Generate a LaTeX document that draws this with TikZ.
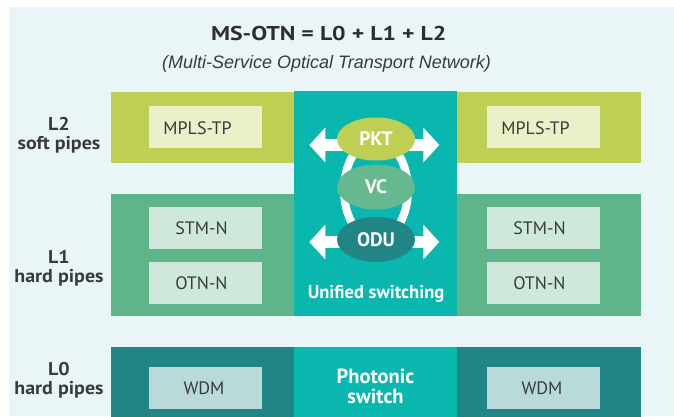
\documentclass[tikz,border=0pt]{standalone}
\usepackage{fontspec}
\usepackage{graphicx}
\setmainfont{PT Sans}
\newfontfamily\subfont{Liberation Sans}
\usetikzlibrary{shapes.geometric,arrows.meta}
\definecolor{bgc}{HTML}{EAF5F8}
\definecolor{ltwo}{HTML}{BECF53}
\definecolor{ltwobox}{HTML}{EAF0C8}
\definecolor{lone}{HTML}{5EB58A}
\definecolor{lonebox}{HTML}{CFE8DC}
\definecolor{lzero}{HTML}{218585}
\definecolor{lzerobox}{HTML}{B8DBDA}
\definecolor{tealc}{HTML}{09B7AF}
\definecolor{vcc}{HTML}{66B98E}
\definecolor{txt}{HTML}{3A3A3A}
\newcommand{\wider}[1]{\scalebox{1.08}[1]{#1}}
\begin{document}
\begin{tikzpicture}[x=1pt,y=-1pt,
  band/.style={rectangle, inner sep=0pt, outer sep=0pt, draw=none},
  inbox/.style={rectangle, inner sep=0pt, outer sep=0pt, minimum width=113pt, minimum height=42pt},
  boxtxt/.style={inner sep=0pt, text=txt, font=\fontsize{18}{21}\selectfont},
  lbl/.style={anchor=base, inner sep=0pt, text=txt, font=\fontsize{18.5}{21}\selectfont\bfseries},
  oval/.style={ellipse, inner sep=0pt, minimum width=78pt, minimum height=43pt, text=white,
     font=\fontsize{19.5}{22}\selectfont\bfseries},
  wtxt/.style={anchor=base, inner sep=0pt, text=white, font=\fontsize{18.5}{21}\selectfont\bfseries},
  fat/.style={white, line width=12pt, {Triangle[length=16pt,width=34pt]}-{Triangle[length=16pt,width=34pt]}}
]
\useasboundingbox (0,0) rectangle (674,416);
\fill[white] (0,0) rectangle (674,416);
\fill[bgc] (9,7) rectangle (674,416);

% title
\node[anchor=base, inner sep=0pt, text=txt!80!black, font=\fontsize{20}{23}\selectfont\bfseries] (title) at (328.7,40.7) {\scalebox{1.19}[1]{MS-OTN = L0 + L1 + L2}};
\node[anchor=base, inner sep=0pt, text=txt, font=\subfont\itshape\fontsize{18}{21}\selectfont] (subtitle) at (326.5,68.5) {(Multi-Service Optical Transport Network)};

% bands
\node[band, fill=ltwo, minimum width=530pt, minimum height=70.5pt] (L2band) at (376,127.25) {};
\node[band, fill=lone, minimum width=530pt, minimum height=122pt] (L1band) at (376,255) {};
\node[band, fill=lzero, minimum width=530pt, minimum height=73pt] (L0band) at (376,383.5) {};
\node[band, fill=tealc, minimum width=163pt, minimum height=224.5pt] (unified) at (375.5,203.25) {};
\node[band, fill=tealc, minimum width=163pt, minimum height=73pt] (photonic) at (375.5,383.5) {};

% inner boxes
\node[inbox, fill=ltwobox] (mplsL) at (205.5,127) {};
\node[inbox, fill=ltwobox] (mplsR) at (543.5,127) {};
\node[inbox, fill=lonebox] (stmL) at (205.5,227.7) {};
\node[inbox, fill=lonebox] (stmR) at (543.5,227.7) {};
\node[inbox, fill=lonebox] (otnL) at (205.5,283) {};
\node[inbox, fill=lonebox] (otnR) at (543.5,283) {};
\node[inbox, fill=lzerobox] (wdmL) at (205.5,388) {};
\node[inbox, fill=lzerobox] (wdmR) at (543.5,388) {};
\node[boxtxt] (mplsLt) at ([xshift=-8pt,yshift=-1pt]mplsL.center) {MPLS-TP};
\node[boxtxt] (mplsRt) at ([xshift=-8pt,yshift=-1pt]mplsR.center) {MPLS-TP};
\node[boxtxt] (stmLt) at ([xshift=-4pt]stmL.center) {STM-N};
\node[boxtxt] (stmRt) at ([xshift=-4pt]stmR.center) {STM-N};
\node[boxtxt] (otnLt) at ([xshift=-4pt]otnL.center) {OTN-N};
\node[boxtxt] (otnRt) at ([xshift=-4pt]otnR.center) {OTN-N};
\node[boxtxt] (wdmLt) at ([xshift=-1.5pt]wdmL.center) {WDM};
\node[boxtxt] (wdmRt) at ([xshift=-1.5pt]wdmR.center) {WDM};

% left labels
\node[lbl] (l2a) at (59,130) {\wider{L2}};
\node[lbl] (l2b) at (59,149.5) {\wider{soft pipes}};
\node[lbl] (l1a) at (59,263) {\wider{L1}};
\node[lbl] (l1b) at (59,282.5) {\wider{hard pipes}};
\node[lbl] (l0a) at (59,375) {\wider{L0}};
\node[lbl] (l0b) at (59,394.5) {\wider{hard pipes}};

% switching core
\coordinate (pktW) at (309.3,145);
\coordinate (pktE) at (439.3,145);
\coordinate (oduW) at (309.3,242);
\coordinate (oduE) at (439.3,242);
\draw[fat] (pktW) -- (pktE);
\draw[fat] (oduW) -- (oduE);
\node[ellipse, draw=white, line width=8pt, inner sep=0pt, minimum width=64pt, minimum height=100pt] (ring) at (376,190) {};
\node[oval, fill=ltwo] (pkt) at (376,139) {PKT};
\node[oval, fill=vcc, minimum height=45pt] (vc) at (376,187) {VC};
\node[oval, fill=lzero, minimum height=45pt] (odu) at (376,239.5) {ODU};

\node[wtxt] (unitxt) at (376,298.3) {Unified switching};
\node[wtxt, font=\fontsize{20.5}{23}\selectfont\bfseries] (pha) at (375.5,383) {Photonic};
\node[wtxt, font=\fontsize{20.5}{23}\selectfont\bfseries] (phb) at (375.5,403) {switch};
\end{tikzpicture}
\end{document}
